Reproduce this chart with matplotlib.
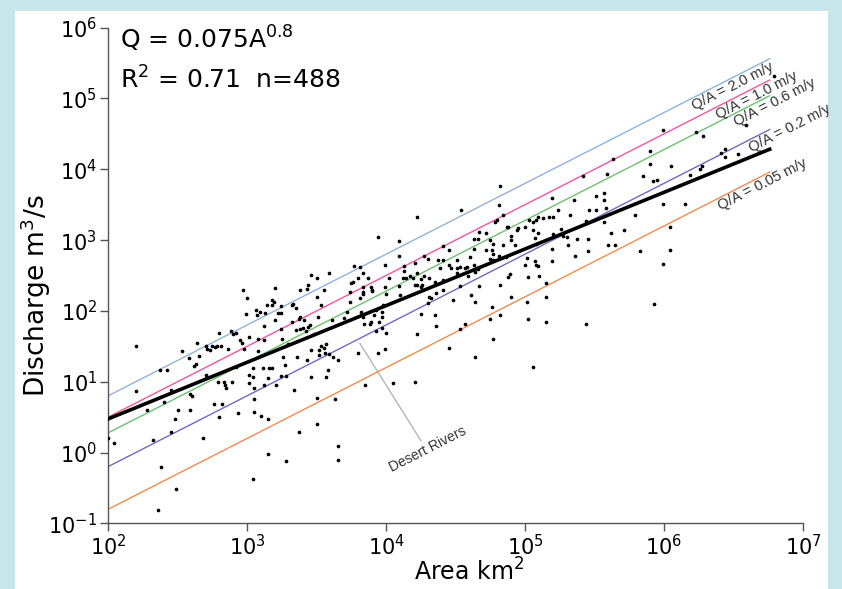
import numpy as np
import matplotlib.pyplot as plt
from matplotlib.patches import Rectangle

# log10 of drainage area (km2) and discharge (m3/s)
log_area = [
    2.00, 2.04, 2.20, 2.20, 2.28, 2.32, 2.37, 2.38, 2.40, 2.42, 2.45, 2.45, 2.48, 2.49, 2.50,
    2.53, 2.58, 2.59, 2.59, 2.60, 2.62, 2.63, 2.65, 2.64, 2.68, 2.70, 2.71, 2.70, 2.73, 2.75,
    2.77, 2.78, 2.76, 2.79, 2.80, 2.80, 2.81, 2.82, 2.83, 2.84, 2.85, 2.86, 2.88, 2.89, 2.90,
    2.92, 2.92, 2.93, 2.95, 2.96, 2.97, 2.98, 2.99, 3.00, 3.01, 3.01, 3.01, 3.04, 3.04, 3.04,
    3.05, 3.05, 3.05, 3.06, 3.07, 3.08, 3.08, 3.09, 3.10, 3.11, 3.12, 3.12, 3.12, 3.13, 3.14,
    3.15, 3.15, 3.15, 3.16, 3.18, 3.18, 3.18, 3.19, 3.20, 3.20, 3.21, 3.22, 3.24, 3.24, 3.24,
    3.24, 3.25, 3.26, 3.27, 3.28, 3.28, 3.29, 3.32, 3.32, 3.33, 3.34, 3.35, 3.35, 3.36, 3.37,
    3.37, 3.38, 3.38, 3.38, 3.40, 3.41, 3.42, 3.43, 3.43, 3.44, 3.44, 3.45, 3.46, 3.46, 3.46,
    3.48, 3.50, 3.50, 3.50, 3.50, 3.51, 3.52, 3.52, 3.53, 3.53, 3.55, 3.55, 3.56, 3.57, 3.57,
    3.58, 3.59, 3.59, 3.61, 3.62, 3.63, 3.65, 3.65, 3.65, 2.36,
    4.82, 4.54, 4.22, 3.94, 4.09, 4.81, 4.84, 4.80, 4.78, 4.88, 5.03, 5.06, 5.09, 5.13, 5.17,
    5.06, 5.09, 5.00, 4.90, 4.94, 4.72, 4.67, 4.63, 4.66, 4.75, 4.77, 4.84, 4.90, 4.93, 4.63,
    4.72, 4.76, 4.77, 4.81, 4.75, 4.86, 4.77, 4.41, 4.45, 4.27, 4.09, 4.21, 4.30, 4.37, 4.41,
    4.51, 4.60, 5.01, 5.07, 5.00, 5.09, 5.02, 4.88, 4.89, 5.10, 4.82, 4.67, 4.53, 4.51, 4.53,
    4.45, 4.47, 4.58, 4.63, 4.64, 4.66, 4.59, 4.51, 4.57, 4.39, 4.41, 4.35, 4.31, 4.27, 4.25,
    4.22, 4.19, 4.21, 4.22, 4.25, 4.26, 4.31, 4.32, 4.36, 4.41, 4.13, 4.13, 4.12, 4.09, 4.10,
    4.14, 4.17, 3.99, 4.02, 3.99, 4.00, 3.98, 3.97, 3.97, 3.95, 3.93, 3.91, 3.93, 3.97, 3.99,
    3.94, 3.88, 3.89, 3.84, 3.83, 3.82, 3.81, 3.77, 3.81, 3.83, 3.87, 3.83, 3.83, 3.83, 3.89,
    3.90, 3.90, 3.75, 3.76, 3.80, 3.74, 3.74, 3.72, 3.70, 3.80, 4.00, 4.05, 4.21, 4.22, 4.35,
    4.36, 4.30, 4.25, 4.45, 4.48, 4.53, 4.57, 4.61, 4.64, 4.76, 4.75, 4.77, 4.82, 4.90, 5.01,
    5.02, 5.06, 4.64, 5.15, 5.15, 5.08, 5.15, 3.85,
    5.99, 6.23, 6.28, 6.59, 5.63, 5.90, 5.90, 6.05, 6.41, 6.44, 6.44, 6.53, 6.27, 6.26, 6.19,
    5.92, 5.95, 5.85, 5.59, 5.42, 5.19, 5.35, 5.51, 5.57, 5.57, 5.46, 5.51, 5.58, 5.24, 5.20,
    5.32, 5.44, 5.26, 5.30, 5.27, 5.37, 5.57, 5.62, 5.71, 5.79, 5.99, 6.15, 6.04, 5.31, 5.36,
    5.45, 5.45, 5.60, 5.65, 5.83, 6.04, 5.99, 5.19, 5.20, 5.44, 5.93, 6.79,
    5.08, 4.95, 4.87, 5.07, 5.08, 5.19,
]
log_q = [
    0.20, 0.14, 1.50, 0.87, 0.60, 0.17, 1.17, -0.21, 0.72, 1.17, 0.89, 0.29, 0.47, -0.51, 0.60,
    1.43, 1.34, 0.83, 0.60, 0.80, 1.22, 1.25, 1.36, 1.54, 0.21, 1.50, 1.46, 1.10, 1.45, 1.50,
    1.49, 1.50, 0.69, 0.99, 1.69, 0.50, 1.50, 0.69, 0.99, 0.95, 0.91, 1.46, 1.71, 1.00, 1.68,
    1.21, 1.69, 0.56, 1.59, 1.55, 2.29, 1.46, 1.96, 2.18, 1.09, 1.63, 0.98, 1.20, 1.07, -0.37,
    0.91, 0.57, 0.75, 2.01, 1.94, 1.61, 1.44, 1.98, 0.51, 1.19, 1.78, 1.59, 0.95, 1.97, 2.08,
    1.05, -0.02, 0.47, 1.19, 2.08, 1.20, 2.16, 2.12, 2.33, 1.87, 0.96, 1.97, 2.07, 1.75, 1.08,
    1.97, 1.61, 1.35, 1.24, 1.08, -0.12, 1.53, 1.85, 2.09, 2.10, 0.88, 2.04, 1.73, 1.35, 0.29,
    1.88, 1.91, 2.30, 1.75, 1.76, 1.87, 1.72, 2.31, 1.30, 2.37, 1.77, 1.80, 2.51, 1.45, 1.07,
    1.68, 2.46, 0.77, 0.40, 2.20, 1.92, 1.45, 1.38, 2.09, 1.50, 2.30, 1.48, 1.40, 1.06, 1.53,
    1.17, 2.54, 1.39, 1.87, 1.35, 0.76, 1.31, 0.09, -0.10, -0.81,
    3.77, 3.43, 3.32, 3.04, 2.99, 3.50, 3.35, 3.28, 3.25, 3.19, 3.28, 3.25, 3.33, 3.31, 3.33,
    3.14, 3.10, 3.18, 3.06, 3.14, 3.10, 3.12, 3.01, 3.01, 3.00, 2.95, 2.93, 3.00, 2.93, 2.87,
    2.86, 2.86, 2.81, 2.78, 2.74, 2.76, 2.72, 2.92, 2.86, 2.78, 2.77, 2.68, 2.73, 2.72, 2.72,
    2.72, 2.76, 2.75, 2.70, 2.65, 2.64, 2.48, 2.48, 2.52, 2.50, 2.37, 2.35, 2.35, 2.61, 2.62,
    2.65, 2.60, 2.62, 2.65, 2.55, 2.59, 2.49, 2.54, 2.60, 2.60, 2.43, 2.41, 2.47, 2.49, 2.45,
    2.53, 2.46, 2.37, 2.37, 2.34, 2.37, 2.20, 2.18, 2.25, 2.30, 2.63, 2.57, 2.46, 2.35, 2.22,
    2.46, 2.49, 2.65, 2.46, 2.34, 2.24, 2.08, 1.98, 1.92, 1.85, 2.01, 1.94, 1.71, 1.76, 1.46,
    1.41, 1.82, 1.85, 1.82, 1.92, 1.98, 2.18, 2.63, 2.62, 2.53, 2.46, 2.34, 2.27, 2.24, 2.34,
    2.30, 2.28, 2.40, 2.41, 2.47, 2.26, 2.13, 1.98, 1.90, 1.41, 1.69, 0.98, 0.99, 1.68, 1.94,
    1.78, 2.11, 1.95, 1.47, 2.16, 1.74, 1.82, 2.23, 2.13, 2.06, 1.88, 1.61, 1.94, 2.20, 2.13,
    1.89, 1.21, 1.35, 2.39, 1.85, 2.65, 2.20, 0.95,
    4.55, 4.52, 4.47, 4.63, 4.15, 4.26, 4.08, 4.05, 4.23, 4.29, 4.18, 4.21, 4.05, 4.00, 3.92,
    3.83, 3.85, 3.90, 3.93, 3.90, 3.59, 3.57, 3.62, 3.67, 3.56, 3.43, 3.42, 3.45, 3.42, 3.33,
    3.35, 3.27, 3.15, 3.05, 3.06, 3.01, 3.25, 3.10, 3.14, 3.35, 3.51, 3.51, 3.19, 2.93, 2.77,
    3.01, 2.85, 2.93, 2.93, 2.85, 2.86, 2.66, 2.70, 3.09, 1.82, 2.10, 5.32,
    3.29, 3.17, 3.19, 3.03, 2.95, 2.87,
]

# regression Q = 0.075 A^0.8 and constant-runoff lines
fit_coef = 0.075
fit_exp = 0.8
runoff_rates = [2.0, 1.0, 0.6, 0.2, 0.05]  # m/y
runoff_colors = ['#8fb3db', '#f2559c', '#6cc072', '#6b6bc2', '#f08c4e']
runoff_labels = ['Q/A = 2.0 m/y', 'Q/A = 1.0 m/y', 'Q/A = 0.6 m/y',
                 'Q/A = 0.2 m/y', 'Q/A = 0.05 m/y']
label_start = [6.22, 6.39, 6.52, 6.63, 6.41]   # log10 area where each label begins
label_drop = 0.19                              # decades below its line
sec_per_year = 3.156e7

area = 10 ** np.array(log_area)
q = 10 ** np.array(log_q)

fig = plt.figure(figsize=(8.42, 5.89), dpi=100)
fig.patch.set_facecolor('#c8e5ea')
fig.patches.append(Rectangle((15 / 842, 0), 813 / 842, 1 - 11 / 589,
                             transform=fig.transFigure, facecolor='white',
                             edgecolor='none', zorder=-10))
ax = fig.add_axes([0.1286, 0.1115, 0.8251, 0.8415])
ax.set_facecolor('none')
ax.set_xscale('log')
ax.set_yscale('log')
ax.set_xlim(1e2, 1e7)
ax.set_ylim(1e-1, 1e6)

a_line = np.array([1e2, 10 ** 6.76])
for r, c in zip(runoff_rates, runoff_colors):
    ax.plot(a_line, r * a_line * 1e6 / sec_per_year, color=c, lw=1.0, zorder=2)
ax.plot(a_line, fit_coef * a_line ** fit_exp, color='black', lw=2.6, zorder=4)
ax.scatter(area, q, s=7, c='black', lw=0, zorder=3)

# rotation of a slope-1 line on screen
p1 = ax.transData.transform((1e3, 1e2))
p2 = ax.transData.transform((1e4, 1e3))
angle = np.degrees(np.arctan2(p2[1] - p1[1], p2[0] - p1[0]))

for lab, r, lx in zip(runoff_labels, runoff_rates, label_start):
    ly = np.log10(r * 1e6 / sec_per_year) + lx - label_drop
    ax.text(10 ** lx, 10 ** ly, lab, rotation=angle, rotation_mode='anchor',
            ha='left', va='baseline', fontsize=10.5, family='Liberation Sans', color='#333333')

ax.plot([10 ** 3.811, 10 ** 4.25], [10 ** 1.542, 10 ** 0.167], color='#b5b5b5', lw=1, zorder=1)
ax.text(10 ** 4.04, 10 ** -0.27, 'Desert Rivers', rotation=angle, rotation_mode='anchor',
        ha='left', va='baseline', fontsize=10, family='Liberation Sans', color='#333333')

fig.text(0.1425, 0.917, 'Q = 0.075A$^{0.8}$', fontsize=18)
fig.text(0.1425, 0.850, 'R$^2$ = 0.71  n=488', fontsize=18)

for s in ['top', 'right']:
    ax.spines[s].set_visible(False)
for s in ['left', 'bottom']:
    ax.spines[s].set_color('#555555')
    ax.spines[s].set_linewidth(1)
ax.minorticks_off()
ax.tick_params(direction='out', length=6, width=1, color='#555555', labelsize=15, pad=2)

ax.set_xlabel('Area km$^2$', fontsize=17)
ax.set_ylabel('Discharge m$^3$/s', fontsize=19)
ax.xaxis.set_label_coords(0.52, -0.07)
ax.yaxis.set_label_coords(-0.08, 0.459)

fig.savefig('out.png', dpi=100, facecolor=fig.get_facecolor())
